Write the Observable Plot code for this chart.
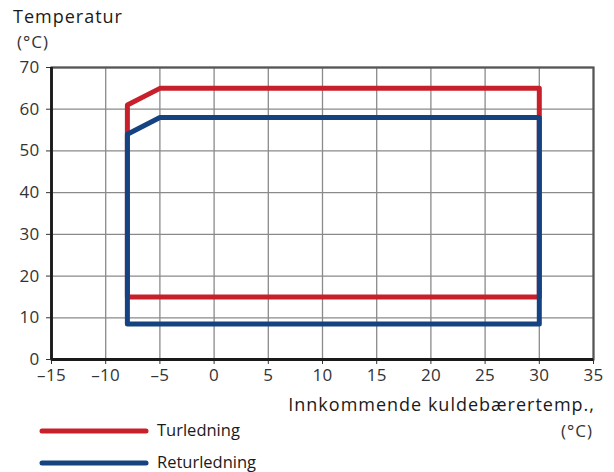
<!DOCTYPE html>
<html>
<head>
<meta charset="utf-8">
<script src="https://cdn.jsdelivr.net/npm/d3@7"></script>
<script src="https://cdn.jsdelivr.net/npm/@observablehq/plot@0.6"></script>
<style>
  html, body { margin: 0; padding: 0; background: #fff; }
  #wrap { position: relative; width: 614px; height: 472px; font-family: "Open Sans", sans-serif; color: #1a1a1a; }
  #wrap svg { position: absolute; left: 0; top: 0; }
  #wrap svg text { letter-spacing: 0.3px; }
  .lbl { position: absolute; white-space: nowrap; letter-spacing: 1px; line-height: 1.3; }
</style>
</head>
<body>
<div id="wrap">
  <div class="lbl" style="left:13px; top:5px; font-size:18px;">Temperatur</div>
  <div class="lbl" style="left:17px; top:31px; font-size:17px; color:#333;">(°C)</div>
  <div class="lbl" style="right:19px; top:393px; font-size:18px;">Innkommende kuldebærertemp.,</div>
  <div class="lbl" style="right:21px; top:420px; font-size:17px; color:#333;">(°C)</div>
  <div id="legend"></div>
</div>
<script>
const seriesNames = ["Turledning", "Returledning"];
const seriesColors = ["#c8202b", "#154280"];
const turX = [-8, -8, -5, 30, 30, -8];
const turY = [15, 61, 65, 65, 15, 15];
const retX = [-8, -8, -5, 30, 30, -8];
const retY = [8.5, 54, 58, 58, 8.5, 8.5];
const xTicks = [-15, -10, -5, 0, 5, 10, 15, 20, 25, 30, 35];
const yTicks = [0, 10, 20, 30, 40, 50, 60, 70];

const rows = [];
turX.forEach((x, i) => rows.push({series: seriesNames[0], x, y: turY[i]}));
retX.forEach((x, i) => rows.push({series: seriesNames[1], x, y: retY[i]}));

const fmt = d => d < 0 ? "\u2013" + Math.abs(d) : String(d);

const chart = Plot.plot({
  width: 614,
  height: 472,
  marginLeft: 51,
  marginRight: 21,
  marginTop: 67,
  marginBottom: 113,
  style: {fontFamily: "Open Sans, sans-serif", fontSize: "17px", color: "#333", background: "transparent"},
  x: {domain: [-15, 35], ticks: xTicks, tickFormat: fmt, label: null},
  y: {domain: [0, 70], ticks: yTicks, label: null},
  color: {domain: seriesNames, range: seriesColors},
  marks: [
    Plot.gridX(xTicks, {stroke: "#8a8a8a", strokeOpacity: 1, strokeWidth: 1.3}),
    Plot.gridY(yTicks, {stroke: "#8a8a8a", strokeOpacity: 1, strokeWidth: 1.3}),
    Plot.frame({stroke: "#555", strokeWidth: 2.2}),
    Plot.axisX({ticks: xTicks, tickFormat: fmt, tickSize: 5, tickPadding: 4, stroke: "#333", fill: "#333", fontSize: 17, label: null}),
    Plot.axisY({ticks: yTicks, tickSize: 5, tickPadding: 7, stroke: "#333", fill: "#333", fontSize: 17, label: null}),
    Plot.ruleX([-15], {stroke: "#1a1a1a", strokeWidth: 2.8}),
    Plot.ruleY([0], {stroke: "#1a1a1a", strokeWidth: 2.8}),
    Plot.line(rows, {x: "x", y: "y", z: "series", stroke: "series", strokeWidth: 5, strokeLinejoin: "round", strokeLinecap: "round"})
  ]
});
document.getElementById("wrap").prepend(chart);

// legend
const leg = document.getElementById("legend");
seriesNames.forEach((name, i) => {
  const lineY = 431 + i * 32;
  const sw = document.createElementNS("http://www.w3.org/2000/svg", "svg");
  sw.setAttribute("width", 116); sw.setAttribute("height", 10);
  sw.style.position = "absolute"; sw.style.left = "38px"; sw.style.top = (lineY - 5) + "px";
  sw.innerHTML = `<line x1="4" y1="5" x2="108" y2="5" stroke="${seriesColors[i]}" stroke-width="5" stroke-linecap="round"/>`;
  leg.appendChild(sw);
  const t = document.createElement("div");
  t.className = "lbl";
  t.style.left = "157px"; t.style.top = (lineY - 12) + "px"; t.style.fontSize = "16.5px";
  t.style.letterSpacing = "0px";
  t.textContent = name;
  leg.appendChild(t);
});
</script>
</body>
</html>
